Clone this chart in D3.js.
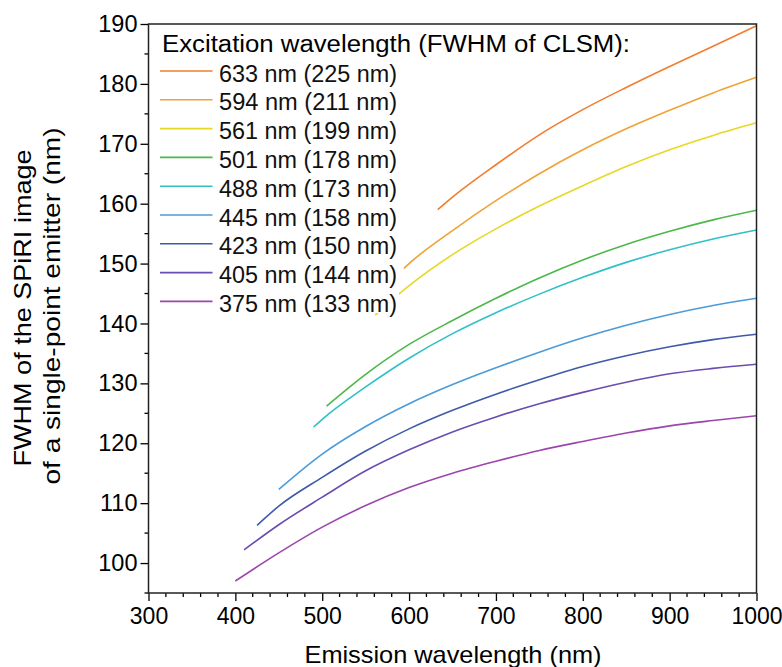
<!DOCTYPE html>
<html><head><meta charset="utf-8">
<script src="https://cdn.jsdelivr.net/npm/d3@7"></script>
<style>body{margin:0;background:#fff}svg{display:block;font-family:"Liberation Sans",Arial,sans-serif}</style>
</head><body><svg id="c" width="782" height="667"></svg>
<script>
const xTicks=[300,400,500,600,700,800,900,1000];
const yTicks=[100,110,120,130,140,150,160,170,180,190];
const legendTitle="Excitation wavelength (FWHM of CLSM):";
const labels=["633 nm (225 nm)","594 nm (211 nm)","561 nm (199 nm)","501 nm (178 nm)","488 nm (173 nm)","445 nm (158 nm)","423 nm (150 nm)","405 nm (144 nm)","375 nm (133 nm)"];
const colors=["#f27d2e","#f0a235","#e6d824","#4cb849","#2fc1c6","#4a9bd9","#3e5aa9","#6a4db0","#9b45ae"];
const s633=[[633,159],[650,161.1],[700,166.5],[750,171.5],[800,175.7],[850,179.4],[900,182.9],[950,186.3],[1000,189.7]];
const s594=[[594,149.2],[600,150],[650,155.5],[700,160.5],[750,165],[800,169],[850,172.5],[900,175.6],[950,178.5],[1000,181.1]];
const s561=[[561,141.4],[600,146.3],[650,151.5],[700,155.8],[750,159.6],[800,163],[850,166.2],[900,169],[950,171.4],[1000,173.5]];
const s501=[[505,126.2],[550,131.5],[600,136.5],[650,140.5],[700,144.2],[750,147.6],[800,150.6],[850,153.2],[900,155.4],[950,157.3],[1000,158.9]];
const s488=[[490,122.7],[500,124],[550,129.4],[600,134.2],[650,138.3],[700,141.8],[750,144.9],[800,147.7],[850,150.2],[900,152.3],[950,154.1],[1000,155.6]];
const s445=[[450,112.3],[500,118.2],[550,122.8],[600,126.6],[650,129.8],[700,132.6],[750,135.2],[800,137.6],[850,139.7],[900,141.5],[950,143],[1000,144.2]];
const s423=[[425,106.3],[450,109.5],[500,114.3],[550,118.7],[600,122.4],[650,125.5],[700,128.2],[750,130.6],[800,132.8],[850,134.6],[900,136.1],[950,137.3],[1000,138.2]];
const s405=[[410,102.2],[450,106.4],[500,111],[550,115.4],[600,118.9],[650,121.9],[700,124.4],[750,126.6],[800,128.5],[850,130.2],[900,131.6],[950,132.5],[1000,133.2]];
const s375=[[400,97],[450,101.7],[500,106],[550,109.6],[600,112.6],[650,115],[700,117],[750,118.8],[800,120.3],[850,121.7],[900,122.9],[950,123.8],[1000,124.6]];
const series=[s633,s594,s561,s501,s488,s445,s423,s405,s375];

const svg=d3.select("#c");
const L=148.5,R=756.5,T=24,B=593;
const x=d3.scaleLinear().domain([300,1000]).range([L,R]);
const y=d3.scaleLinear().domain([95,190]).range([B,T]);

const line=d3.line().x(d=>x(d[0])).y(d=>y(d[1])).curve(d3.curveMonotoneX);
series.forEach((s,i)=>{
  svg.append("path").attr("d",line(s)).attr("fill","none").attr("stroke",colors[i]).attr("stroke-width",1.6);
});

// legend background
svg.append("rect").attr("x",155).attr("y",28).attr("width",244).attr("height",285).attr("fill","#fff");
svg.append("text").attr("x",162).attr("y",52).attr("font-size",23).attr("fill","#000")
  .attr("textLength",468).attr("lengthAdjust","spacingAndGlyphs").text(legendTitle);
labels.forEach((t,i)=>{
  const yy=71+i*28.8;
  svg.append("line").attr("x1",160).attr("x2",212.5).attr("y1",yy).attr("y2",yy).attr("stroke",colors[i]).attr("stroke-width",1.6);
  svg.append("text").attr("x",219).attr("y",yy+10.5).attr("font-size",23).attr("fill","#111")
    .attr("textLength",178).attr("lengthAdjust","spacingAndGlyphs").text(t);
});

// axes
const xa=svg.append("g").attr("transform",`translate(0,${B})`)
 .call(d3.axisBottom(x).tickValues(xTicks).tickSize(8).tickPadding(7).tickFormat(d3.format("d")));
const ya=svg.append("g").attr("transform",`translate(${L},0)`)
 .call(d3.axisLeft(y).tickValues(yTicks).tickSize(8).tickPadding(3).tickFormat(d3.format("d")));
// minor ticks
const xMinor=d3.range(300,1001,20).filter(v=>v%100!==0);
svg.append("g").selectAll("line").data(xMinor).join("line")
 .attr("x1",d=>x(d)).attr("x2",d=>x(d)).attr("y1",B).attr("y2",B+4).attr("stroke","#000").attr("stroke-width",1.3);
const yMinor=d3.range(95,191,5).filter(v=>v%10!==0);
svg.append("g").selectAll("line").data(yMinor).join("line")
 .attr("x1",L).attr("x2",L-4).attr("y1",d=>y(d)).attr("y2",d=>y(d)).attr("stroke","#000").attr("stroke-width",1.3);
[xa,ya].forEach(g=>{
  g.selectAll(".domain").remove();
  g.selectAll(".tick line").attr("stroke","#000").attr("stroke-width",1.3);
  g.selectAll(".tick text").attr("font-size",23.5).attr("fill","#000").attr("font-family","'Liberation Sans',Arial,sans-serif");
});
xa.selectAll(".tick text").attr("font-size",23);
// frame
svg.append("rect").attr("x",L).attr("y",T).attr("width",R-L).attr("height",B-T).attr("fill","none").attr("stroke","#222").attr("stroke-width",1.5);

svg.append("text").attr("x",453).attr("y",663).attr("text-anchor","middle").attr("font-size",24).attr("fill","#000")
  .attr("textLength",297).attr("lengthAdjust","spacingAndGlyphs").text("Emission wavelength (nm)");
svg.append("text").attr("transform",`translate(31,308) rotate(-90)`).attr("text-anchor","middle").attr("font-size",24).attr("fill","#000")
  .attr("textLength",317).attr("lengthAdjust","spacingAndGlyphs").text("FWHM of the SPiRI image");
svg.append("text").attr("transform",`translate(60,306) rotate(-90)`).attr("text-anchor","middle").attr("font-size",24).attr("fill","#000")
  .attr("textLength",357).attr("lengthAdjust","spacingAndGlyphs").text("of a single-point emitter (nm)");
</script></body></html>
